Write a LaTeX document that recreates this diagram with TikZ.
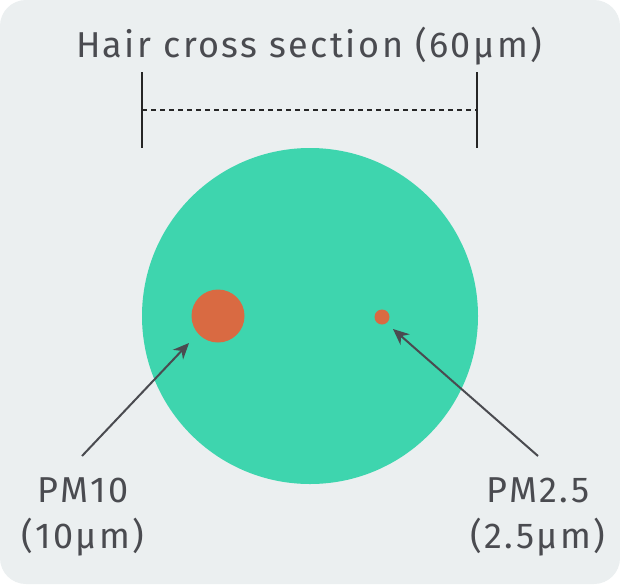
\documentclass[tikz,border=0pt]{standalone}
\usepackage{fontspec}
\setmainfont{Fira Sans}[LetterSpace=6.8]
\usetikzlibrary{arrows.meta}
\definecolor{bg}{HTML}{EBEFF0}
\definecolor{hair}{HTML}{3ED5AE}
\definecolor{pm}{HTML}{D96A42}
\definecolor{ink}{HTML}{4A4B50}
\tikzset{
  lbl/.style={text=ink,font=\fontsize{36}{46}\selectfont,align=center,inner sep=0pt},
  pointer/.style={draw=ink,line width=2pt,-{Stealth[length=16pt,width=14pt]}},
  tick/.style={draw=black!85,line width=2pt},
}
\begin{document}
\begin{tikzpicture}[x=1pt,y=-1pt]
\useasboundingbox (0,0) rectangle (620,584);
\fill[white] (0,0) rectangle (620,584);
\fill[bg,rounded corners=26pt] (0,0) rectangle (620,584);
\node[lbl,anchor=base] (title) at (309,57) {Hair cross section (60µm)};
\coordinate (lt) at (142,72);
\coordinate (lb) at (142,148);
\coordinate (rt) at (477,72);
\coordinate (rb) at (477,148);
\coordinate (dl) at (142,110);
\coordinate (dr) at (477,110);
\draw[tick] (lt) -- (lb);
\draw[tick] (rt) -- (rb);
\draw[black!85,line width=1.5pt,dash pattern=on 5pt off 4pt] (dl) -- (dr);
\node[circle,fill=hair,minimum size=336pt,inner sep=0pt] (hair) at (310,316) {};
\node[circle,fill=pm,minimum size=53pt,inner sep=0pt] (pm10) at (218,316) {};
\node[circle,fill=pm,minimum size=15pt,inner sep=0pt] (pm25) at (382,317) {};
\node[lbl,anchor=base] (l10a) at (83,502) {PM10};
\node[lbl,anchor=base] (l10b) at (83,548) {(10µm)};
\node[lbl,anchor=base] (l25a) at (538,502) {PM2.5};
\node[lbl,anchor=base] (l25b) at (538,548) {(2.5µm)};
\coordinate (t10) at (82,456);
\coordinate (h10) at (189,343);
\coordinate (t25) at (538,456);
\coordinate (h25) at (393,329);
\draw[pointer] (t10) -- (h10);
\draw[pointer] (t25) -- (h25);
\end{tikzpicture}
\end{document}
